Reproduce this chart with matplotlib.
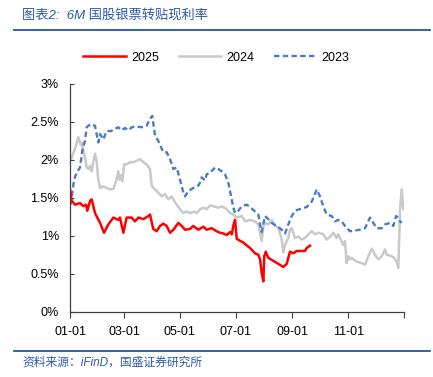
import numpy as np
import matplotlib
matplotlib.use('Agg')
import matplotlib.pyplot as plt

plt.rcParams['font.family'] = ['Liberation Sans', 'Noto Sans CJK SC', 'DejaVu Sans']

# day of year (0 = 01-01) and rate in %
days_2025 = [0, 1.8, 5.5, 10.9, 14.6, 17.5, 18.9, 21.9, 23.7, 27.3, 32.8, 37.2, 41.9,
             47.4, 52.8, 54.6, 58.3, 61.9, 67.4, 71, 74.7, 80.1, 85.6, 87.4, 91, 94.7,
             98.4, 102, 105.6, 109.3, 113, 118.4, 122, 125.7, 131, 134.7, 140.2, 145.7,
             149.3, 154.8, 160.3, 164, 167.7, 171.3, 175, 176.8, 178.6, 180.4, 182.2,
             189.4, 196.7, 202.2, 205.8, 207.7, 209.5, 211.3, 212.3, 213.9, 216.7, 222.2,
             227.7, 233.1, 236.8, 240.4, 244, 247.8, 251.4, 256.8, 258.7, 262.3]
rate_2025 = [1.61, 1.46, 1.41, 1.43, 1.39, 1.41, 1.33, 1.46, 1.48, 1.30, 1.17, 1.04, 1.15,
             1.24, 1.21, 1.24, 1.04, 1.24, 1.24, 1.19, 1.24, 1.22, 1.26, 1.28, 1.09, 1.06,
             1.13, 1.16, 1.13, 1.04, 1.08, 1.17, 1.13, 1.08, 1.09, 1.13, 1.08, 1.12,
             1.08, 1.10, 1.06, 1.04, 1.03, 1.01, 1.05, 1.02, 1.14, 1.21, 0.96,
             0.91, 0.84, 0.77, 0.75, 0.69, 0.51, 0.40, 0.73, 0.79, 0.71, 0.67,
             0.63, 0.59, 0.63, 0.79, 0.77, 0.80, 0.80, 0.80, 0.84, 0.87]

days_2024 = [1.5, 5.5, 9.1, 11.5, 12.8, 14.5, 16.4, 18.2, 20, 21.9, 23.7, 25.5, 27.3, 29.1,
             30.9, 32.8, 36.4, 40, 43.7, 47.4, 50.9, 52.8, 53.9, 55.7, 57.1, 59.2, 61.6,
             65.6, 69.2, 72.9, 76.5, 80.1, 83.8, 87.4, 89.3, 92.9, 94.7, 100.2, 103.8,
             107.4, 111.1, 114.8, 120.2, 123.8, 127.5, 131.1, 134.8, 138.5, 142.1, 145.7,
             149.4, 153, 156.6, 162.1, 165.8, 171.3, 174.9, 178.5, 182.2, 187.7, 191.3,
             196.7, 202.2, 205.8, 207.7, 209.5, 211.3, 213.1, 216.7, 220.4, 224, 227.7,
             231.4, 233.1, 235, 238.6, 240.4, 242.3, 245.9, 249.5, 253.2, 256.8, 260.4,
             264.2, 267.8, 271.4, 276.8, 280.5, 284.2, 287.8, 291.5, 293.2, 295.1, 298.7,
             300.5, 302.4, 304.2, 306, 307.9, 309.6, 313.3, 318.8, 322.4, 326, 329.7,
             333.3, 336.9, 340.7, 344.3, 346.1, 349.7, 353.3, 357, 358.8, 360.7, 362.5,
             364.3]
rate_2024 = [2.02, 2.15, 2.30, 2.20, 2.23, 2.12, 2.03, 1.90, 1.88, 1.92, 1.85, 1.98, 2.08, 1.98,
             1.74, 1.63, 1.65, 1.63, 1.61, 1.62, 1.74, 1.85, 1.74, 1.80, 1.72, 1.94, 1.94,
             1.97, 1.97, 1.99, 2.01, 1.97, 1.94, 1.88, 1.66, 1.61, 1.59, 1.52, 1.55,
             1.48, 1.52, 1.44, 1.35, 1.30, 1.32, 1.30, 1.32, 1.30, 1.35, 1.37,
             1.35, 1.40, 1.39, 1.37, 1.39, 1.35, 1.30, 1.28, 1.24, 1.26, 1.19,
             1.21, 1.19, 1.15, 1.04, 0.93, 1.13, 1.17, 1.15, 1.21, 1.13, 1.11,
             0.95, 0.78, 0.88, 0.97, 1.08, 1.10, 0.97, 0.99, 0.95, 0.97, 1.02,
             1.06, 1.02, 1.04, 1.02, 0.95, 0.99, 1.04, 0.97, 1.02, 0.97, 0.88,
             0.93, 0.64, 0.73, 0.69, 0.71, 0.69, 0.66, 0.64, 0.62, 0.73, 0.83,
             0.75, 0.69, 0.73, 0.82, 0.75, 0.74, 0.72, 0.66, 0.575, 1.35, 1.61,
             1.35]

days_2023 = [0.8, 4.4, 7.3, 10.9, 13.9, 16.4, 18.2, 21.9, 27.3, 30.9, 32.8, 36.4, 40, 45,
             49.2, 52.8, 56.4, 60, 63.8, 67.4, 72.9, 78.3, 83.8, 87.4, 89.9, 92.9, 96.5,
             102, 105.7, 109.3, 112.9, 116.6, 120.2, 123.8, 125.7, 129.3, 134.8, 140.2,
             142.1, 143.9, 147.5, 149.4, 153, 158.5, 162.1, 165.8, 169.4, 173, 176.7,
             178.5, 180.3, 183.9, 187.7, 193.1, 196.7, 202.2, 205.8, 207.7, 209.5, 213.1,
             216.7, 220.4, 225.9, 231.4, 235, 238.6, 242.3, 245.9, 253.2, 258.7, 264.2,
             269.6, 273.2, 276.8, 280.5, 286, 289.6, 293.2, 296.9, 300.5, 306, 311.5, 317,
             322.4, 327.9, 331.5, 335.2, 340.7, 344.3, 349.7, 353.3, 356.3, 358.8, 360.7,
             362.5]
rate_2023 = [1.41, 1.74, 1.83, 1.90, 2.16, 2.25, 2.43, 2.47, 2.45, 2.23, 2.34, 2.27, 2.38, 2.38,
             2.41, 2.43, 2.39, 2.42, 2.39, 2.43, 2.44, 2.43, 2.45, 2.54, 2.58, 2.32, 2.25,
             2.10, 2.10, 2.01, 1.88, 1.90, 1.74, 1.57, 1.52, 1.59, 1.63, 1.66,
             1.70, 1.77, 1.73, 1.81, 1.83, 1.90, 1.88, 1.85, 1.81, 1.70, 1.48,
             1.37, 1.30, 1.33, 1.39, 1.41, 1.38, 1.32, 1.28, 1.15, 1.05, 1.26,
             1.22, 1.17, 1.13, 1.08, 1.03, 1.15, 1.26, 1.33, 1.36, 1.38, 1.45,
             1.61, 1.52, 1.39, 1.28, 1.26, 1.19, 1.21, 1.19, 1.13, 1.06, 1.07, 1.08,
             1.10, 1.24, 1.17, 1.10, 1.10, 1.15, 1.17, 1.13, 1.26, 1.24, 1.19,
             1.17]

tick_days = [0, 59, 120, 181, 243, 304, 365]
tick_labels = ['01-01', '03-01', '05-01', '07-01', '09-01', '11-01', '']

blue_txt = '#2E5AAC'

fig = plt.figure(figsize=(4.33, 3.77), dpi=100)
ax = fig.add_axes([0.1617, 0.1732, 0.7713, 0.604])

ax.plot(days_2024, rate_2024, color='#C9C9C9', lw=1.8, label='2024')
ax.plot(days_2023, rate_2023, color='#4A7CC4', lw=1.7, dashes=(2.3, 1.4), label='2023')
ax.plot(days_2025, rate_2025, color='#FF0000', lw=1.8, label='2025')

ax.set_xlim(0, 365)
ax.set_ylim(0, 3)
ax.set_xticks(tick_days)
ax.set_xticklabels(tick_labels)
ax.set_yticks(np.arange(0, 3.01, 0.5))
ax.set_yticklabels(['0%', '0.5%', '1%', '1.5%', '2%', '2.5%', '3%'])
for s in ['top', 'right']:
    ax.spines[s].set_visible(False)
for s in ['left', 'bottom']:
    ax.spines[s].set_color('#404040')
    ax.spines[s].set_linewidth(0.9)
ax.tick_params(axis='y', direction='in', length=3, color='#404040', labelsize=9, pad=8)
ax.tick_params(axis='x', direction='out', length=4, color='#404040', labelsize=9, pad=6)

h, l = ax.get_legend_handles_labels()
order = [2, 0, 1]
fig.legend([h[i] for i in order], [l[i] for i in order], loc='center',
           bbox_to_anchor=(0.5, 0.847), ncol=3, frameon=False, fontsize=9,
           handlelength=3.4, handletextpad=0.4, columnspacing=1.6)

fig.text(0.051, 0.96, '图表2:  6M 国股银票转贴现利率', color=blue_txt, fontsize=9.5,
         style='italic', va='center', ha='left')
fig.add_artist(plt.Line2D([0.032, 0.993], [0.92, 0.92], color='#1F55B0', lw=1.3))
fig.add_artist(plt.Line2D([0.032, 0.993], [0.069, 0.069], color='#1F55B0', lw=1.3))
fig.text(0.051, 0.037, '资料来源：iFinD，国盛证券研究所', color=blue_txt, fontsize=8.5,
         style='italic', va='center', ha='left')

fig.savefig('out.png', dpi=100)
